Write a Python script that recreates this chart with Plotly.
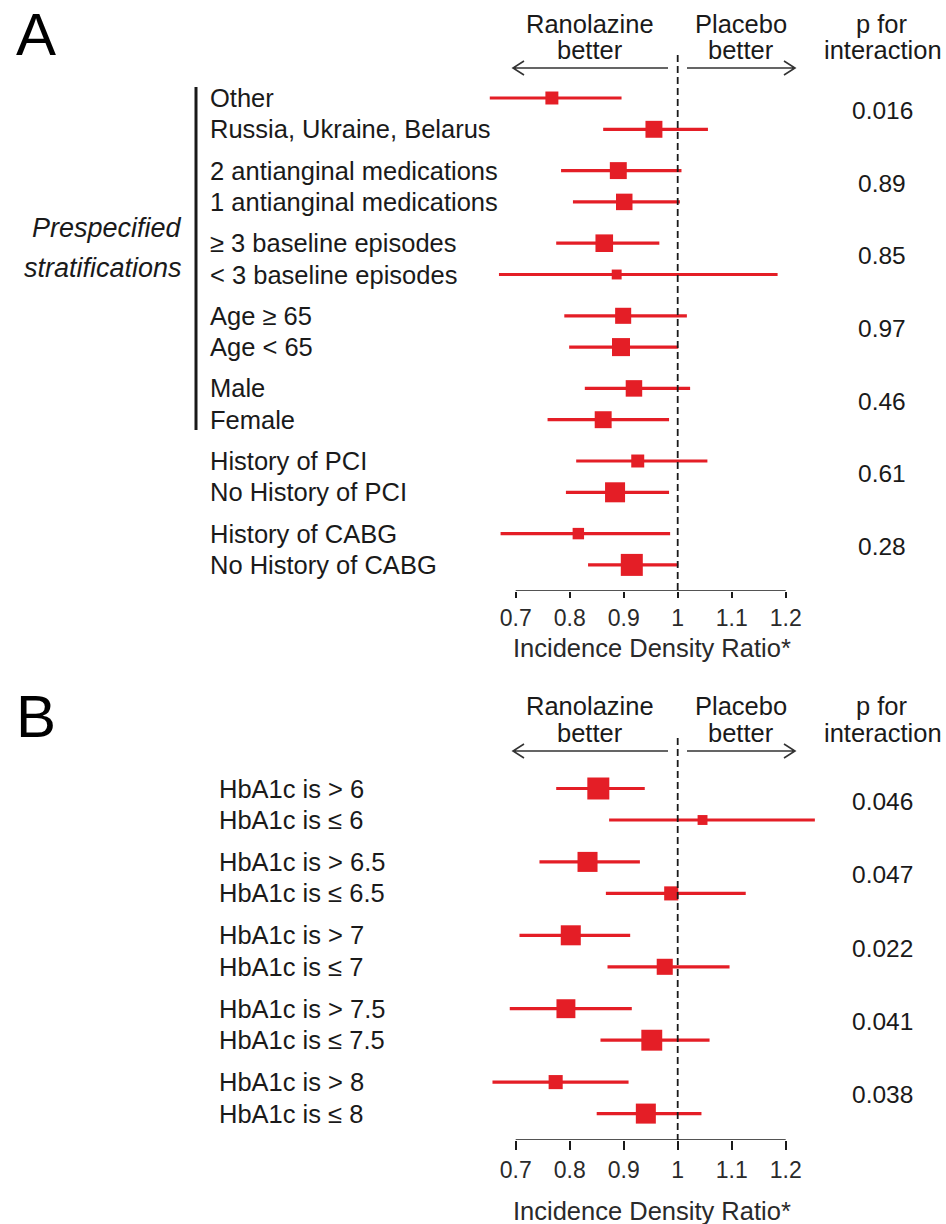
import plotly.graph_objects as go

W, H = 946, 1224

# ---------------- Panel A data ----------------
labels_A = ["Other", "Russia, Ukraine, Belarus",
            "2 antianginal medications", "1 antianginal medications",
            "≥ 3 baseline episodes", "< 3 baseline episodes",
            "Age ≥ 65", "Age < 65",
            "Male", "Female",
            "History of PCI", "No History of PCI",
            "History of CABG", "No History of CABG"]
idr_A = [0.767, 0.956, 0.890, 0.901, 0.864, 0.887, 0.899, 0.895, 0.919, 0.862, 0.926, 0.884, 0.816, 0.915]
lo_A = [0.652, 0.862, 0.784, 0.806, 0.775, 0.669, 0.790, 0.799, 0.828, 0.759, 0.812, 0.793, 0.672, 0.834]
hi_A = [0.896, 1.056, 1.007, 1.004, 0.966, 1.185, 1.017, 1.001, 1.023, 0.984, 1.055, 0.984, 0.986, 1.001]
weight_A = [0.59, 0.77, 0.77, 0.75, 0.80, 0.45, 0.73, 0.82, 0.75, 0.77, 0.59, 0.91, 0.52, 1.00]
p_A = ["0.016", "0.89", "0.85", "0.97", "0.46", "0.61", "0.28"]

# ---------------- Panel B data ----------------
labels_B = ["HbA1c is > 6", "HbA1c is ≤ 6", "HbA1c is > 6.5", "HbA1c is ≤ 6.5",
            "HbA1c is > 7", "HbA1c is ≤ 7", "HbA1c is > 7.5", "HbA1c is ≤ 7.5",
            "HbA1c is > 8", "HbA1c is ≤ 8"]
idr_B = [0.853, 1.046, 0.833, 0.988, 0.802, 0.976, 0.793, 0.952, 0.774, 0.941]
lo_B = [0.775, 0.873, 0.744, 0.867, 0.707, 0.870, 0.689, 0.857, 0.657, 0.850]
hi_B = [0.939, 1.254, 0.930, 1.126, 0.912, 1.096, 0.915, 1.059, 0.909, 1.044]
weight_B = [1.00, 0.45, 0.91, 0.64, 0.91, 0.73, 0.86, 0.95, 0.64, 0.91]
p_B = ["0.046", "0.047", "0.022", "0.041", "0.038"]

tick_vals = [0.7, 0.8, 0.9, 1.0, 1.1, 1.2]
tick_text = ["0.7", "0.8", "0.9", "1", "1.1", "1.2"]
axis_title = "Incidence Density Ratio*"

# ---------------- styling / layout constants ----------------
RED = "#E41E26"
INK = "#1a1a1a"
FONT = "Liberation Sans, Arial, Helvetica, sans-serif"
MAX_BOX = 22
PX_PER_UNIT = 540.0
X_ONE_PX = 677.7          # pixel column of ratio 1.0
X_DOM_PX = (470, 830)     # x-axis domain in pixels


def px2val(px):
    return 1 + (px - X_ONE_PX) / PX_PER_UNIT


def fx(px):
    return px / W


def fy(py):
    return 1 - py / H


panels = [
    dict(name="A", labels=labels_A, est=idr_A, lo=lo_A, hi=hi_A, w=weight_A, p=p_A,
         first=98.0, row=31.3, pair=72.6, top=40, axis=591, label_x=208,
         dash_top=55, head_y=(23.5, 50), arrow_y=68, title_y=648, letter_y=34,
         ticklen=6, xa="x", ya="y"),
    dict(name="B", labels=labels_B, est=idr_B, lo=lo_B, hi=hi_B, w=weight_B, p=p_B,
         first=788.5, row=31.5, pair=73.4, top=690, axis=1140, label_x=217,
         dash_top=738, head_y=(706.5, 733), arrow_y=751, title_y=1211, letter_y=716,
         ticklen=9, xa="x2", ya="y2"),
]

fig = go.Figure()
shapes = []
annotations = []

for i, pn in enumerate(panels):
    n = len(pn["labels"])
    ys = [pn["first"] + (k // 2) * pn["pair"] + (k % 2) * pn["row"] for k in range(n)]
    fig.add_trace(go.Scatter(
        x=pn["est"], y=ys, mode="markers",
        marker=dict(symbol="square", color=RED, opacity=1,
                    size=[w * MAX_BOX for w in pn["w"]], line=dict(width=0)),
        error_x=dict(type="data", symmetric=False,
                     array=[h - e for h, e in zip(pn["hi"], pn["est"])],
                     arrayminus=[e - l for e, l in zip(pn["est"], pn["lo"])],
                     color=RED, thickness=3.2, width=0),
        xaxis=pn["xa"], yaxis=pn["ya"], showlegend=False, hoverinfo="skip",
        cliponaxis=False,
    ))
    xref, yref = pn["xa"], pn["ya"]

    # row labels
    for lab, yv in zip(pn["labels"], ys):
        annotations.append(dict(text=lab, x=fx(pn["label_x"]), xref="paper", y=yv, yref=yref,
                                xanchor="left", yanchor="middle", showarrow=False,
                                font=dict(size=25.5, color=INK, family=FONT)))
    # p for interaction
    for g, pv in enumerate(pn["p"]):
        ym = (ys[2 * g] + ys[2 * g + 1]) / 2 - 3
        annotations.append(dict(text=pv, x=fx(882), xref="paper", y=ym, yref=yref,
                                xanchor="center", yanchor="middle", showarrow=False,
                                font=dict(size=24.5, color=INK, family=FONT)))
    # headers
    for txt, cx in (("Ranolazine", 590), ("Placebo", 740.5), ("p for", 882)):
        annotations.append(dict(text=txt, x=fx(cx), xref="paper", y=fy(pn["head_y"][0]), yref="paper",
                                xanchor="center", yanchor="middle", showarrow=False,
                                font=dict(size=25.5, color=INK, family=FONT)))
    for txt, cx in (("better", 590), ("better", 740.5), ("interaction", 883)):
        annotations.append(dict(text=txt, x=fx(cx), xref="paper", y=fy(pn["head_y"][1]), yref="paper",
                                xanchor="center", yanchor="middle", showarrow=False,
                                font=dict(size=25.5, color=INK, family=FONT)))
    # axis title
    annotations.append(dict(text=axis_title, x=fx(652), xref="paper", y=fy(pn["title_y"]), yref="paper",
                            xanchor="center", yanchor="middle", showarrow=False,
                            font=dict(size=25.5, color="#2a2a2a", family=FONT)))
    # panel letter
    annotations.append(dict(text=pn["name"], x=fx(14), xref="paper", y=fy(pn["letter_y"]), yref="paper",
                            xanchor="left", yanchor="middle", showarrow=False,
                            font=dict(size=60, color="#000000", family=FONT)))

    # axis line between first and last tick
    shapes.append(dict(type="line", xref=xref, yref=yref, x0=tick_vals[0], x1=tick_vals[-1],
                       y0=pn["axis"], y1=pn["axis"], line=dict(color=INK, width=1.6)))
    # reference dashed line at 1
    shapes.append(dict(type="line", xref=xref, yref=yref, x0=1, x1=1,
                       y0=pn["dash_top"], y1=pn["axis"],
                       line=dict(color=INK, width=1.8, dash="7px,4px")))
    # direction arrows
    ay = pn["arrow_y"]
    la, lb = px2val(668), px2val(513)
    ra, rb = px2val(687), px2val(795)
    head = 11 / PX_PER_UNIT
    arrow_line = dict(color="#333333", width=1.6)
    shapes.append(dict(type="path", xref=xref, yref=yref,
                       path=f"M{la},{ay} L{lb},{ay} M{lb + head},{ay - 7} L{lb},{ay} L{lb + head},{ay + 7}",
                       line=arrow_line))
    shapes.append(dict(type="path", xref=xref, yref=yref,
                       path=f"M{ra},{ay} L{rb},{ay} M{rb - head},{ay - 7} L{rb},{ay} L{rb - head},{ay + 7}",
                       line=arrow_line))

# bracket bar for prespecified stratifications
shapes.append(dict(type="line", xref="paper", yref="y", x0=fx(196), x1=fx(196),
                   y0=87, y1=430, line=dict(color=INK, width=3)))
for txt, yy in (("Prespecified", 228), ("stratifications", 268)):
    annotations.append(dict(text=f"<i>{txt}</i>", x=fx(184), xref="paper", y=yy, yref="y",
                            xanchor="right", yanchor="middle", showarrow=False,
                            font=dict(size=27, color=INK, family=FONT)))

xr = [px2val(X_DOM_PX[0]), px2val(X_DOM_PX[1])]
xcommon = dict(domain=[fx(X_DOM_PX[0]), fx(X_DOM_PX[1])], range=xr,
               tickvals=tick_vals, ticktext=tick_text, ticks="outside",
               tickwidth=1.6, tickcolor=INK, showline=False, showgrid=False, zeroline=False,
               tickfont=dict(size=23, color="#2a2a2a", family=FONT), fixedrange=True)
pa, pb = panels
fig.update_layout(
    width=W, height=H, margin=dict(l=0, r=0, t=0, b=0),
    paper_bgcolor="white", plot_bgcolor="white",
    xaxis=dict(anchor="y", ticklen=pa["ticklen"], **xcommon),
    xaxis2=dict(anchor="y2", ticklen=pb["ticklen"], **xcommon),
    yaxis=dict(domain=[fy(pa["axis"]), fy(pa["top"])], range=[pa["axis"], pa["top"]],
               visible=False, fixedrange=True),
    yaxis2=dict(domain=[fy(pb["axis"]), fy(pb["top"])], range=[pb["axis"], pb["top"]],
                visible=False, fixedrange=True),
    shapes=shapes, annotations=annotations,
)

fig.write_html("out.html", config={"displayModeBar": False},
               post_script="document.body.style.margin='0';document.body.style.overflow='hidden';")
